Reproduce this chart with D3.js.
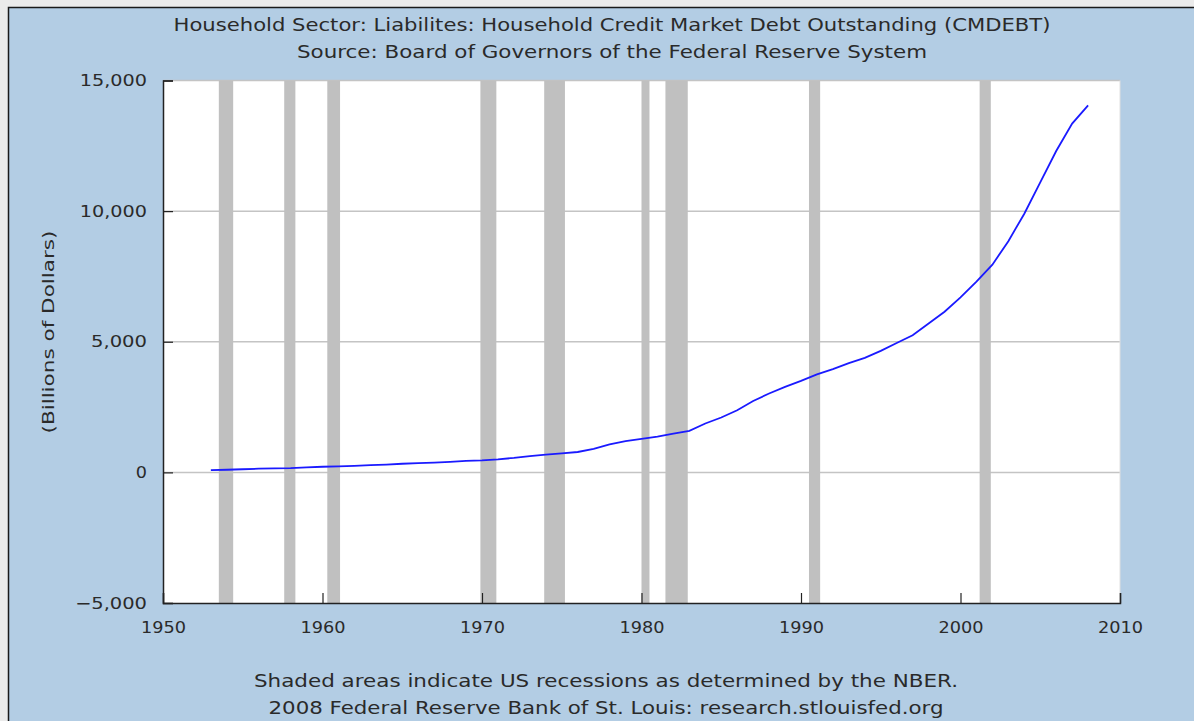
<!DOCTYPE html>
<html><head><meta charset="utf-8">
<script src="https://cdn.jsdelivr.net/npm/d3@7"></script>
<style>
html,body{margin:0;padding:0;background:#ebebeb;}
svg{display:block;}
</style></head>
<body>
<svg id="chart" width="1194" height="721"></svg>
<script>
// ---- data ----
const years = [1953,1954,1955,1956,1957,1958,1959,1960,1961,1962,1963,1964,1965,1966,1967,1968,1969,1970,1971,1972,1973,1974,1975,1976,1977,1978,1979,1980,1981,1982,1983,1984,1985,1986,1987,1988,1989,1990,1991,1992,1993,1994,1995,1996,1997,1998,1999,2000,2001,2002,2003,2004,2005,2006,2007,2008];
const debt = [85,100,120,140,155,165,190,215,230,250,275,300,330,355,375,405,440,460,500,555,625,680,730,780,900,1070,1200,1280,1370,1480,1590,1870,2100,2380,2730,3020,3270,3500,3750,3950,4180,4380,4650,4950,5250,5700,6150,6700,7300,7950,8850,9900,11100,12300,13350,14050];
const recStart = [1953.5,1957.6,1960.3,1969.9,1973.9,1980.0,1981.5,1990.5,2001.2];
const recEnd   = [1954.4,1958.3,1961.1,1970.9,1975.2,1980.5,1982.9,1991.2,2001.9];
const yTicks = [-5000,0,5000,10000,15000];
const xTicks = [1950,1960,1970,1980,1990,2000,2010];
const titleLines = ["Household Sector: Liabilites: Household Credit Market Debt Outstanding (CMDEBT)","Source: Board of Governors of the Federal Reserve System"];
const footerLines = ["Shaded areas indicate US recessions as determined by the NBER.","2008 Federal Reserve Bank of St. Louis: research.stlouisfed.org"];
const yLabel = "(Billions of Dollars)";

const svg = d3.select("#chart");
const font = "'DejaVu Sans', Verdana, sans-serif";
const txt = "#2a2a2a";

// frame
svg.append("rect").attr("x",8.5).attr("y",7.5).attr("width",1194).attr("height",720).attr("fill","#b3cde4").attr("stroke","#1a1a1a").attr("stroke-width",1.5);

const L=163, R=1120, T=80.5, B=603;
const x = d3.scaleLinear().domain([1950,2010]).range([L,R]);
const y = d3.scaleLinear().domain([-5000,15000]).range([B,T]);

// plot bg
svg.append("rect").attr("x",L).attr("y",T).attr("width",R-L).attr("height",B-T).attr("fill","#fff");

// gridlines
svg.append("g").selectAll("line").data(yTicks.filter(d=>d>-5000)).join("line")
  .attr("x1",L).attr("x2",R).attr("y1",d=>y(d)).attr("y2",d=>y(d))
  .attr("stroke","#c4c4c4").attr("stroke-width",1.5);
svg.append("line").attr("x1",R).attr("x2",R).attr("y1",T).attr("y2",B).attr("stroke","#e0e0e0").attr("stroke-width",1);

// recession bars
svg.append("g").selectAll("rect").data(recStart.map((s,i)=>[s,recEnd[i]])).join("rect")
  .attr("x",d=>x(d[0])).attr("width",d=>x(d[1])-x(d[0]))
  .attr("y",T).attr("height",B-T).attr("fill","#c0c0c0");

// line
const pts = years.map((yr,i)=>[yr,debt[i]]);
svg.append("path").datum(pts)
  .attr("d",d3.line().x(d=>x(d[0])).y(d=>y(d[1])))
  .attr("fill","none").attr("stroke","#1a1aff").attr("stroke-width",1.8);

// axes
const yAxis = d3.axisLeft(y).tickValues(yTicks).tickSize(-10).tickPadding(16).tickFormat(d3.format(","));
const gy = svg.append("g").attr("transform",`translate(${L},0)`).call(yAxis);
const xAxis = d3.axisBottom(x).tickValues(xTicks).tickSize(-10).tickPadding(19).tickFormat(d3.format("d"));
const gx = svg.append("g").attr("transform",`translate(0,${B})`).call(xAxis);
[gy,gx].forEach(g=>{
  g.select(".domain").attr("stroke","#222").attr("stroke-width",1.5);
  g.selectAll(".tick line").attr("stroke","#222").attr("stroke-width",1.2);
  g.selectAll("text").attr("font-family",font).attr("font-size",16).attr("fill",txt);
});
gy.selectAll(".tick text").attr("textLength",d=>d<0?72:(d3.format(",")(d).length*11.2)).attr("lengthAdjust","spacingAndGlyphs");
gx.selectAll(".tick text").attr("dy","0.71em").attr("textLength",45).attr("lengthAdjust","spacingAndGlyphs");

// titles
const titleW = [877,630];
svg.append("g").selectAll("text").data(titleLines).join("text")
  .attr("x",612).attr("y",(d,i)=>31+i*27).attr("text-anchor","middle")
  .attr("font-family",font).attr("font-size",17).attr("fill",txt)
  .attr("textLength",(d,i)=>titleW[i]).attr("lengthAdjust","spacingAndGlyphs").text(d=>d);
const footW = [704,675];
svg.append("g").selectAll("text").data(footerLines).join("text")
  .attr("x",606).attr("y",(d,i)=>687+i*27).attr("text-anchor","middle")
  .attr("font-family",font).attr("font-size",17).attr("fill",txt)
  .attr("textLength",(d,i)=>footW[i]).attr("lengthAdjust","spacingAndGlyphs").text(d=>d);
svg.append("text").attr("transform","translate(54,332) rotate(-90)").attr("text-anchor","middle")
  .attr("font-family",font).attr("font-size",16).attr("fill",txt)
  .attr("textLength",203).attr("lengthAdjust","spacingAndGlyphs").text(yLabel);
</script>
</body></html>
